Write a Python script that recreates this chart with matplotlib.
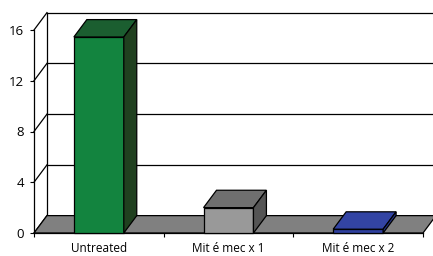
import matplotlib
matplotlib.use('Agg')
import matplotlib.pyplot as plt
from matplotlib.patches import Polygon

categories = ['Untreated', 'Mit é mec x 1', 'Mit é mec x 2']
values = [15.45, 2.0, 0.3]
y_ticks = [0, 4, 8, 12, 16]

front_colors = ['#13843f', '#999999', '#2e3f9e']
top_colors = ['#1b5e30', '#6f6f6f', '#3344a4']
side_colors = ['#20401f', '#555555', '#26358a']

# oblique depth offset in data units
DX = 0.10
DY = 1.37
BAR_W = 0.385

fig = plt.figure(figsize=(4.33, 2.56), dpi=100)
ax = fig.add_axes([34 / 433, 23 / 256, 389 / 433, 203 / 256])
ax.set_xlim(-0.5, 2.5)
ax.set_ylim(0, 16)

for s in ['top', 'right']:
    ax.spines[s].set_visible(False)
ax.spines['bottom'].set_linewidth(0.9)
ax.spines['left'].set_linewidth(0.9)

ax.set_yticks(y_ticks)
ax.set_yticklabels([str(t) for t in y_ticks], fontsize=9.5, family='Open Sans')
ax.tick_params(axis='y', length=3, width=0.8, pad=4)
ax.set_xticks([-0.5, 0.5, 1.5, 2.5])
ax.set_xticklabels([])
ax.tick_params(axis='x', which='major', length=3, width=0.8)
ax.set_xticks(range(len(categories)), minor=True)
ax.set_xticklabels(categories, minor=True, fontsize=8.5, family='Open Sans')
ax.tick_params(axis='x', which='minor', length=0, pad=6.5)

lw = 0.9
# back wall gridlines and back vertical axis
x0 = -0.5
for t in y_ticks:
    if t > 0:
        ax.plot([x0 + DX, 2.6 + DX], [t + DY, t + DY], color='black', lw=lw, clip_on=False, zorder=1)
    ax.plot([x0, x0 + DX], [t, t + DY], color='black', lw=lw, clip_on=False, zorder=1)
ax.plot([x0 + DX, x0 + DX], [DY, 16 + DY], color='black', lw=lw, clip_on=False, zorder=1)

# floor
floor = Polygon([(x0, 0), (2.5, 0), (2.5 + DX, DY), (x0 + DX, DY)], closed=True,
                facecolor='#808080', edgecolor='black', lw=lw, clip_on=False, zorder=2)
ax.add_patch(floor)

# bars
for i, v in enumerate(values):
    l = i - BAR_W / 2
    r = i + BAR_W / 2
    front = Polygon([(l, 0), (r, 0), (r, v), (l, v)], closed=True,
                    facecolor=front_colors[i], edgecolor='black', lw=lw, clip_on=False, zorder=3)
    top = Polygon([(l, v), (r, v), (r + DX, v + DY), (l + DX, v + DY)], closed=True,
                  facecolor=top_colors[i], edgecolor='black', lw=lw, clip_on=False, zorder=3)
    side = Polygon([(r, 0), (r + DX, DY), (r + DX, v + DY), (r, v)], closed=True,
                   facecolor=side_colors[i], edgecolor='black', lw=lw, clip_on=False, zorder=3)
    ax.add_patch(front)
    ax.add_patch(top)
    ax.add_patch(side)

ax.set_facecolor('none')
fig.savefig('out.png', dpi=100)
